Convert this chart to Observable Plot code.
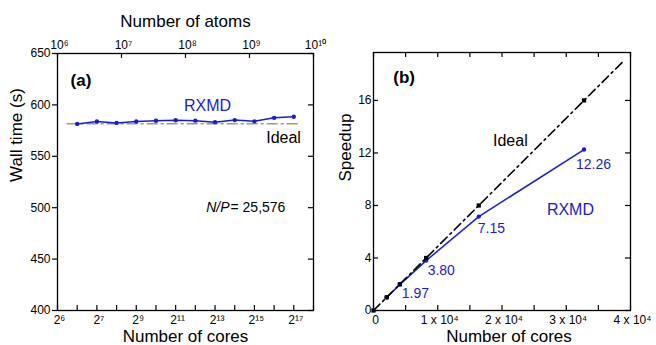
<!DOCTYPE html>
<html>
<head>
<meta charset="utf-8">
<script src="https://cdn.jsdelivr.net/npm/d3@7"></script>
<script src="https://cdn.jsdelivr.net/npm/@observablehq/plot@0.6"></script>
<style>
  html, body { margin: 0; padding: 0; background: #fff; }
  #wrap { display: flex; width: 656px; height: 345px; overflow: hidden; }
  svg { display: block; }
</style>
</head>
<body>
<div id="wrap"></div>
<script>
// ---------- Data: panel (a) weak scaling ----------
const coresA = [64, 128, 256, 512, 1024, 2048, 4096, 8192, 16384, 32768, 65536, 131072];
const wallTime = [581.5, 583.8, 582.5, 583.9, 584.6, 585.1, 584.7, 583.2, 585.2, 584.0, 587.4, 588.4];
const idealWallCores = [45, 148000];
const idealWall = [581.6, 581.6];
const coreTickValues = [32, 64, 128, 256, 512, 1024, 2048, 4096, 8192, 16384, 32768, 65536, 131072, 262144];
const coreLabelValues = [32, 128, 512, 2048, 8192, 32768, 131072];
const coreLabels = ["2\u2076", "2\u2077", "2\u2079", "2\u00B9\u00B9", "2\u00B9\u00B3", "2\u00B9\u2075", "2\u00B9\u2077"];
const atomTickValues = [1e6, 1e7, 1e8, 1e9, 1e10];
const atomLabels = ["10\u2076", "10\u2077", "10\u2078", "10\u2079", "10\u00B9\u2070"];
const wallTicks = [400, 450, 500, 550, 600, 650];

// ---------- Data: panel (b) strong scaling ----------
const coresB = [2048, 4096, 8192, 16384, 32768];
const speedupRXMD = [1, 1.97, 3.80, 7.15, 12.26];
const coresIdeal = [0, 2048, 4096, 8192, 16384, 32768];
const speedupIdeal = [0, 1, 2, 4, 8, 16];
const idealLineCores = [0, 39000];
const idealLineSpeedup = [0, 19.04];
const coreTicksB = [0, 5000, 10000, 15000, 20000, 25000, 30000, 35000, 40000];
const coreLabelValuesB = [0, 10000, 20000, 30000, 40000];
const coreLabelsB = ["0", "1 x 10\u2074", "2 x 10\u2074", "3 x 10\u2074", "4 x 10\u2074"];
const speedupTicks = [0, 4, 8, 12, 16];
const speedupLabelText = ["", "1.97", "3.80", "7.15", "12.26"];

const FONT = "'Liberation Sans', Arial, Helvetica, sans-serif";
const BLUE = "#1c1ccf";

// map atoms (top axis, decades) onto the cores (log2) scale domain [2^5, 2^18]
const atomsToCoreAxis = a => Math.pow(2, 5 + 13 * (Math.log10(a) - 6) / 4);

const tableA = coresA.map((c, i) => ({cores: c, wall: wallTime[i]}));
const idealA = idealWallCores.map((c, i) => ({cores: c, wall: idealWall[i]}));
const rxmdB = coresB.map((c, i) => ({cores: c, speedup: speedupRXMD[i], label: speedupLabelText[i]}));
const idealPtsB = coresIdeal.map((c, i) => ({cores: c, speedup: speedupIdeal[i]}));
const idealLineB = idealLineCores.map((c, i) => ({cores: c, speedup: idealLineSpeedup[i]}));
const atomAxis = atomTickValues.map((a, i) => ({pos: atomsToCoreAxis(a), label: atomLabels[i]}));
const coreAxisA = coreLabelValues.map((c, i) => ({cores: c, label: coreLabels[i]}));
const coreAxisB = coreLabelValuesB.map((c, i) => ({cores: c, label: coreLabelsB[i]}));

const HA = 257, WA = 256; // frame size panel a
const plotA = Plot.plot({
  width: 328, height: 345,
  marginLeft: 57, marginRight: 15, marginTop: 53, marginBottom: 35,
  style: {fontFamily: FONT, fontSize: "12px", color: "black", background: "white"},
  x: {type: "log", base: 2, domain: [32, 262144], axis: null},
  y: {domain: [400, 650], axis: null},
  marks: [
    // inward ticks
    Plot.tickX(coreTickValues, {x: d => d, insetTop: HA - 5, stroke: "black", strokeWidth: 1.2}),
    Plot.tickX(atomAxis, {x: "pos", insetBottom: HA - 5, stroke: "black", strokeWidth: 1.2}),
    Plot.tickY(wallTicks, {y: d => d, insetLeft: -5, insetRight: WA, stroke: "black", strokeWidth: 1.2}),
    Plot.tickY(wallTicks, {y: d => d, insetLeft: WA - 5, stroke: "black", strokeWidth: 1.2}),
    // tick labels
    Plot.text(coreAxisA, {x: "cores", text: "label", frameAnchor: "bottom", lineAnchor: "top", dy: 5, dx: 2, fontSize: 12}),
    Plot.text(atomAxis, {x: "pos", text: "label", frameAnchor: "top", lineAnchor: "bottom", dy: -5, dx: 2, fontSize: 12}),
    Plot.axisY(wallTicks, {anchor: "left", tickSize: 0, tickPadding: 7, label: null}),
    Plot.frame({stroke: "black", strokeWidth: 1.3}),
    Plot.line(idealA, {x: "cores", y: "wall", stroke: "#9a9a9a", strokeWidth: 1.6, strokeDasharray: "10,4,2,4"}),
    Plot.line(tableA, {x: "cores", y: "wall", stroke: BLUE, strokeWidth: 1.5}),
    Plot.dot(tableA, {x: "cores", y: "wall", fill: BLUE, r: 2.2}),
    // annotations
    Plot.text(["(a)"], {x: 50.6, y: 623.7, textAnchor: "start", fontSize: 17, fontWeight: "bold"}),
    Plot.text(["RXMD"], {x: 6290, y: 599.4, fill: BLUE, fontSize: 16}),
    Plot.text(["Ideal"], {x: 91400, y: 567.6, fontSize: 16}),
    Plot.text(["N/P"], {x: 13630, y: 500, textAnchor: "end", fontSize: 14, fontStyle: "italic"}),
    Plot.text(["= 25,576"], {x: 13630, y: 500, textAnchor: "start", fontSize: 14, dx: 1}),
    // axis titles
    Plot.text(["Wall time (s)"], {frameAnchor: "left", dx: -41, rotate: -90, fontSize: 17}),
    Plot.text(["Number of cores"], {frameAnchor: "bottom", dy: 26, fontSize: 17, lineAnchor: "middle"}),
    Plot.text(["Number of atoms"], {frameAnchor: "top", dy: -32, fontSize: 17, lineAnchor: "middle"})
  ]
});

const HB = 258, WB = 257;
const plotB = Plot.plot({
  width: 328, height: 345,
  marginLeft: 45, marginRight: 26, marginTop: 52, marginBottom: 35,
  style: {fontFamily: FONT, fontSize: "12px", color: "black", background: "white", overflow: "visible"},
  x: {domain: [0, 40000], axis: null},
  y: {domain: [0, 19.65], axis: null},
  marks: [
    Plot.tickX(coreTicksB, {x: d => d, insetTop: HB - 5, stroke: "black", strokeWidth: 1.2}),
    Plot.tickX(coreTicksB, {x: d => d, insetBottom: HB - 5, stroke: "black", strokeWidth: 1.2}),
    Plot.tickY(speedupTicks, {y: d => d, insetRight: WB - 5, stroke: "black", strokeWidth: 1.2}),
    Plot.tickY(speedupTicks, {y: d => d, insetLeft: WB - 5, stroke: "black", strokeWidth: 1.2}),
    Plot.text(coreAxisB, {x: "cores", text: "label", frameAnchor: "bottom", lineAnchor: "top", dy: 5, dx: 2, fontSize: 12}),
    Plot.axisY(speedupTicks, {anchor: "left", tickSize: 0, tickPadding: 2, label: null}),
    Plot.frame({stroke: "black", strokeWidth: 1.3}),
    Plot.line(rxmdB, {x: "cores", y: "speedup", stroke: BLUE, strokeWidth: 1.5}),
    Plot.dot(rxmdB, {x: "cores", y: "speedup", fill: BLUE, r: 2.2}),
    Plot.line(idealLineB, {x: "cores", y: "speedup", stroke: "black", strokeWidth: 1.6, strokeDasharray: "9,4,2,4"}),
    Plot.dot(idealPtsB, {x: "cores", y: "speedup", fill: "black", symbol: "square", r: 2.4}),
    // value labels
    Plot.text(rxmdB.slice(1, 2), {x: "cores", y: "speedup", text: "label", textAnchor: "start", dx: 2, dy: 9, fill: BLUE, fontSize: 14}),
    Plot.text(rxmdB.slice(2, 3), {x: "cores", y: "speedup", text: "label", textAnchor: "start", dx: 1.5, dy: 9.5, fill: BLUE, fontSize: 14}),
    Plot.text(rxmdB.slice(3, 4), {x: "cores", y: "speedup", text: "label", textAnchor: "start", dx: -1, dy: 12, fill: BLUE, fontSize: 14}),
    Plot.text(rxmdB.slice(4, 5), {x: "cores", y: "speedup", text: "label", textAnchor: "start", dx: -8, dy: 15, fill: BLUE, fontSize: 14}),
    // annotations
    Plot.text(["(b)"], {x: 3070, y: 17.76, textAnchor: "start", fontSize: 17, fontWeight: "bold"}),
    Plot.text(["Ideal"], {x: 21300, y: 12.94, fontSize: 16}),
    Plot.text(["RXMD"], {x: 30650, y: 7.67, fill: BLUE, fontSize: 16}),
    // axis titles
    Plot.text(["Speedup"], {frameAnchor: "left", dx: -28, rotate: -90, fontSize: 17}),
    Plot.text(["Number of cores"], {frameAnchor: "bottom", dy: 26, dx: 7, fontSize: 17, lineAnchor: "middle"})
  ]
});

document.getElementById("wrap").append(plotA, plotB);
</script>
</body>
</html>
